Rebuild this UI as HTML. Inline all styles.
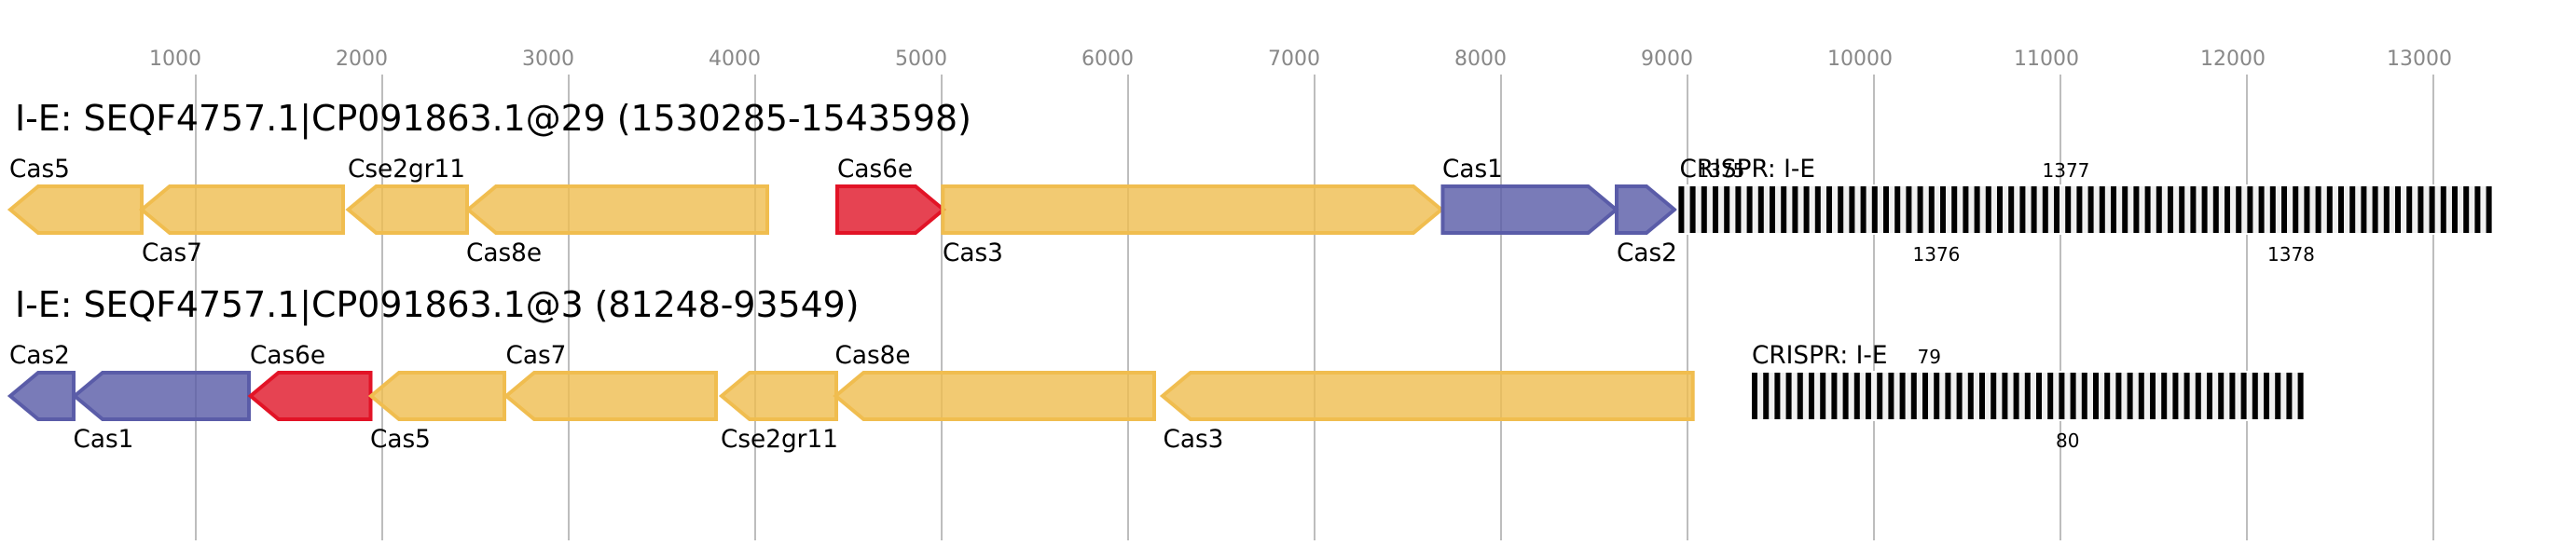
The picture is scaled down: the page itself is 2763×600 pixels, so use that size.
<!DOCTYPE html>
<html>
<head>
<meta charset="utf-8">
<style>
html,body{margin:0;padding:0;background:#fff}
svg{display:block}
text{font-family:"DejaVu Sans","Liberation Sans",sans-serif;fill:#000}
text.ax{font-size:22px;fill:#888}
.t{font-size:37.85px}
.l{font-size:26.3px}
.n{font-size:20px}
.g line{stroke:#bdbdbd;stroke-width:2}
polygon{stroke-width:4;stroke-miterlimit:10}
.o{fill:rgba(239,189,79,.8);stroke:#f0bd4f}
.p{fill:rgba(87,90,166,.8);stroke:#5a5ca8}
.r{fill:rgba(224,20,39,.8);stroke:#e21326}
.bar{stroke:#000;stroke-width:50;stroke-dasharray:6 6.2;fill:none}
</style>
</head>
<body>
<svg xmlns="http://www.w3.org/2000/svg" width="2763" height="600" viewBox="0 0 2763 600">
<rect width="2763" height="600" fill="#fff"/>
<g class="g">
<line x1="210" y1="80" x2="210" y2="580"/>
<line x1="410" y1="80" x2="410" y2="580"/>
<line x1="610" y1="80" x2="610" y2="580"/>
<line x1="810" y1="80" x2="810" y2="580"/>
<line x1="1010" y1="80" x2="1010" y2="580"/>
<line x1="1210" y1="80" x2="1210" y2="580"/>
<line x1="1410" y1="80" x2="1410" y2="580"/>
<line x1="1610" y1="80" x2="1610" y2="580"/>
<line x1="1810" y1="80" x2="1810" y2="580"/>
<line x1="2010" y1="80" x2="2010" y2="580"/>
<line x1="2210" y1="80" x2="2210" y2="580"/>
<line x1="2410" y1="80" x2="2410" y2="580"/>
<line x1="2610" y1="80" x2="2610" y2="580"/>
</g>
<text class="ax" x="160" y="70">1000</text>
<text class="ax" x="360" y="70">2000</text>
<text class="ax" x="560" y="70">3000</text>
<text class="ax" x="760" y="70">4000</text>
<text class="ax" x="960" y="70">5000</text>
<text class="ax" x="1160" y="70">6000</text>
<text class="ax" x="1360" y="70">7000</text>
<text class="ax" x="1560" y="70">8000</text>
<text class="ax" x="1760" y="70">9000</text>
<text class="ax" x="1960" y="70">10000</text>
<text class="ax" x="2160" y="70">11000</text>
<text class="ax" x="2360" y="70">12000</text>
<text class="ax" x="2560" y="70">13000</text>

<text class="t" x="16" y="140">I-E: SEQF4757.1|CP091863.1@29 (1530285-1543598)</text>
<polygon class="o" points="11,225 41,200 152,200 152,250 41,250"/>
<polygon class="o" points="152,225 182,200 368,200 368,250 182,250"/>
<polygon class="o" points="373.5,225 403.5,200 501,200 501,250 403.5,250"/>
<polygon class="o" points="502,225 532,200 823,200 823,250 532,250"/>
<polygon class="r" points="898,200 982,200 1012,225 982,250 898,250"/>
<polygon class="o" points="1011.3,200 1516,200 1546,225 1516,250 1011.3,250"/>
<polygon class="p" points="1547.5,200 1703.5,200 1733.5,225 1703.5,250 1547.5,250"/>
<polygon class="p" points="1734,200 1766,200 1796,225 1766,250 1734,250"/>
<text class="l" x="10" y="190">Cas5</text>
<text class="l" x="152" y="280">Cas7</text>
<text class="l" x="373" y="190">Cse2gr11</text>
<text class="l" x="500" y="280">Cas8e</text>
<text class="l" x="898" y="190">Cas6e</text>
<text class="l" x="1011" y="280">Cas3</text>
<text class="l" x="1547" y="190">Cas1</text>
<text class="l" x="1734" y="280">Cas2</text>
<rect x="1798.4" y="198" width="876.2" height="54" fill="#fff"/>
<rect x="1800.4" y="200" width="872.2" height="50" fill="#f0f0f0"/>
<line class="bar" x1="1800.4" y1="225" x2="2672.6" y2="225"/>
<text class="l" x="1801.5" y="190">CRISPR: I-E</text>
<text class="n" x="1820.5" y="190">1375</text>
<text class="n" x="2051.5" y="280">1376</text>
<text class="n" x="2190.5" y="190">1377</text>
<text class="n" x="2432" y="280">1378</text>

<text class="t" x="16" y="340">I-E: SEQF4757.1|CP091863.1@3 (81248-93549)</text>
<polygon class="p" points="11,425 41,400 79,400 79,450 41,450"/>
<polygon class="p" points="80,425 110,400 267,400 267,450 110,450"/>
<polygon class="r" points="268.7,425 298.7,400 397.5,400 397.5,450 298.7,450"/>
<polygon class="o" points="398,425 428,400 541,400 541,450 428,450"/>
<polygon class="o" points="543,425 573,400 768,400 768,450 573,450"/>
<polygon class="o" points="774,425 804,400 897,400 897,450 804,450"/>
<polygon class="o" points="896.3,425 926.3,400 1238,400 1238,450 926.3,450"/>
<polygon class="o" points="1247,425 1277,400 1815.7,400 1815.7,450 1277,450"/>
<text class="l" x="10" y="390">Cas2</text>
<text class="l" x="78.5" y="480">Cas1</text>
<text class="l" x="268" y="390">Cas6e</text>
<text class="l" x="397" y="480">Cas5</text>
<text class="l" x="542.5" y="390">Cas7</text>
<text class="l" x="773" y="480">Cse2gr11</text>
<text class="l" x="895.5" y="390">Cas8e</text>
<text class="l" x="1247.5" y="480">Cas3</text>
<rect x="1877" y="398" width="595.8" height="54" fill="#fff"/>
<rect x="1879" y="400" width="591.6" height="50" fill="#f0f0f0"/>
<line class="bar" x1="1879" y1="425" x2="2470.6" y2="425"/>
<text class="l" x="1879" y="390">CRISPR: I-E</text>
<text class="n" x="2056.5" y="390">79</text>
<text class="n" x="2205" y="480">80</text>
</svg>
</body>
</html>
